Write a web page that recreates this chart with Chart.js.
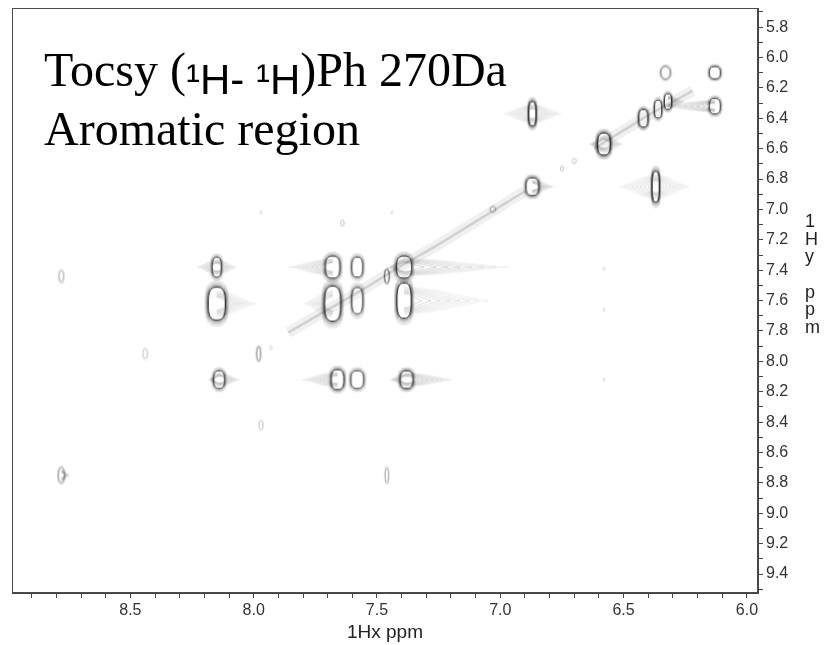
<!DOCTYPE html>
<html>
<head>
<meta charset="utf-8">
<script src="https://cdn.jsdelivr.net/npm/chart.js@4.4.1/dist/chart.umd.min.js"></script>
<style>
  html, body { margin: 0; padding: 0; background: #ffffff; }
  #wrap { width: 825px; height: 645px; position: relative; }
</style>
</head>
<body>
<div id="wrap"><canvas id="c" width="825" height="645"></canvas></div>
<script>
// ---------------- data (ppm) ----------------
const titleLine1 = ["Tocsy (", "\u00B9H- \u00B9H", ")Ph 270Da"];
const titleLine2 = "Aromatic region";
const xAxisTitle = "1Hx ppm";
const yAxisTitle = ["1", "H", "y", "", "p", "p", "m"];

const xRange = [5.955, 8.98];
const yRange = [5.674, 9.525];
const xMajorTicks = [6.0, 6.5, 7.0, 7.5, 8.0, 8.5];
const yMajorTicks = [5.8, 6.0, 6.2, 6.4, 6.6, 6.8, 7.0, 7.2, 7.4, 7.6, 7.8, 8.0, 8.2, 8.4, 8.6, 8.8, 9.0, 9.2, 9.4];

// cross / diagonal peaks: centre (ppm), half-widths (ppm), contour levels, tail extents (ppm)
const peakX      = [8.78, 8.78, 7.46, 8.44, 7.98, 7.93, 7.97, 8.15, 8.15, 8.14, 7.68, 7.58, 7.46, 7.39, 7.68, 7.58, 7.39, 7.66, 7.58, 7.38, 6.87, 6.87, 6.37, 6.33, 6.13, 6.13, 6.58, 6.42, 6.36, 6.32, 6.70, 6.75, 7.03, 7.64, 6.58, 6.58, 6.58, 7.97, 7.44];
const peakY      = [7.44, 8.75, 8.75, 7.95, 7.95, 7.91, 8.42, 7.38, 7.62, 8.12, 7.38, 7.38, 7.44, 7.38, 7.62, 7.60, 7.60, 8.12, 8.12, 8.12, 6.37, 6.85, 6.85, 6.10, 6.10, 6.32, 6.57, 6.40, 6.34, 6.29, 6.68, 6.73, 7.00, 7.09, 7.39, 7.66, 8.12, 7.02, 7.02];
const peakWidthX = [0.012, 0.016, 0.009, 0.011, 0.010, 0.006, 0.010, 0.025, 0.048, 0.030, 0.040, 0.030, 0.012, 0.042, 0.045, 0.030, 0.040, 0.035, 0.035, 0.035, 0.020, 0.035, 0.020, 0.025, 0.030, 0.030, 0.035, 0.025, 0.020, 0.020, 0.010, 0.008, 0.014, 0.008, 0.004, 0.004, 0.004, 0.004, 0.004];
const peakWidthY = [0.050, 0.065, 0.065, 0.045, 0.060, 0.020, 0.040, 0.090, 0.150, 0.080, 0.100, 0.090, 0.060, 0.100, 0.160, 0.120, 0.160, 0.090, 0.080, 0.080, 0.110, 0.080, 0.140, 0.055, 0.055, 0.070, 0.100, 0.080, 0.080, 0.070, 0.020, 0.020, 0.025, 0.025, 0.015, 0.015, 0.015, 0.015, 0.015];
const peakLevels = [3, 4, 3, 2, 4, 1, 2, 6, 8, 6, 7, 6, 5, 7, 8, 6, 8, 7, 6, 7, 8, 7, 8, 5, 6, 6, 8, 7, 6, 6, 2, 2, 3, 2, 1, 1, 1, 1, 1];
const fanLeft    = [0, 0, 0, 0, 0, 0, 0, 0.06, 0, 0.02, 0.15, 0, 0, 0.03, 0.08, 0, 0, 0.12, 0, 0.04, 0.10, 0, 0.13, 0, 0, 0.20, 0.03, 0, 0, 0, 0, 0, 0, 0, 0, 0, 0, 0, 0];
const fanRight   = [0, 0.02, 0, 0, 0, 0, 0, 0.06, 0.12, 0.06, 0, 0, 0, 0.39, 0, 0, 0.31, 0, 0, 0.16, 0.10, 0.06, 0.12, 0, 0, 0, 0.05, 0, 0, 0.05, 0, 0, 0, 0, 0, 0, 0, 0, 0];

// diagonal ridge (two visible stretches)
const diagX1 = [7.86, 7.70, 7.55, 7.40, 7.25, 7.10, 6.98, 6.90];
const diagY1 = [7.81, 7.66, 7.52, 7.37, 7.23, 7.08, 6.96, 6.88];
const diagX2 = [6.62, 6.50, 6.40, 6.30, 6.22];
const diagY2 = [6.60, 6.48, 6.38, 6.29, 6.22];

// ---------------- rendering ----------------
const peakPoints = peakX.map((x, i) => ({ x: x, y: peakY[i] }));
const diag1 = diagX1.map((x, i) => ({ x: x, y: diagY1[i] }));
const diag2 = diagX2.map((x, i) => ({ x: x, y: diagY2[i] }));

const imgCache = {};
function superEllipse(ctx, cx, cy, rx, ry, p) {
  ctx.beginPath();
  const N = 48;
  for (let k = 0; k <= N; k++) {
    const t = k / N * Math.PI * 2;
    const c = Math.cos(t), s = Math.sin(t);
    const x = cx + rx * Math.sign(c) * Math.pow(Math.abs(c), 2 / p);
    const y = cy + ry * Math.sign(s) * Math.pow(Math.abs(s), 2 / p);
    if (k === 0) ctx.moveTo(x, y); else ctx.lineTo(x, y);
  }
  ctx.closePath();
}
function peakImage(i, chart) {
  const xs = chart.scales.x, ys = chart.scales.y;
  const kx = Math.abs(xs.getPixelForValue(8) - xs.getPixelForValue(7));
  const ky = Math.abs(ys.getPixelForValue(8) - ys.getPixelForValue(7));
  const key = i + '_' + kx.toFixed(2) + '_' + ky.toFixed(2);
  if (imgCache[key]) return imgCache[key];
  const rx = Math.max(1.2, peakWidthX[i] * kx);
  const ry = Math.max(1.6, peakWidthY[i] * ky);
  const fl = fanLeft[i] * kx, fr = fanRight[i] * kx;
  const halfW = Math.ceil(rx + Math.max(fl, fr) + 3);
  const halfH = Math.ceil(ry + 3);
  const cv = document.createElement('canvas');
  cv.width = halfW * 2; cv.height = halfH * 2;
  const g = cv.getContext('2d');
  const cx = halfW, cy = halfH;
  g.lineWidth = 0.6;
  // tails (t1 ridges)
  [[-1, fl], [1, fr]].forEach(function (d) {
    const dir = d[0], f = d[1];
    if (f <= 0) return;
    const K = 8;
    for (let k = 0; k < K; k++) {
      const t = 1 - k / K;
      const tip = rx * 0.8 + f * t;
      const h = ry * (0.55 - 0.3 * k / K);
      g.strokeStyle = 'rgba(0,0,0,' + (0.10 + 0.025 * k).toFixed(3) + ')';
      g.beginPath();
      g.moveTo(cx, cy - h);
      g.bezierCurveTo(cx + dir * tip * 0.35, cy - h, cx + dir * tip * 0.7, cy - h * 0.25, cx + dir * tip, cy);
      g.bezierCurveTo(cx + dir * tip * 0.7, cy + h * 0.25, cx + dir * tip * 0.35, cy + h, cx, cy + h);
      g.stroke();
    }
  });
  // contour rings
  const n = peakLevels[i];
  const maxA = Math.min(0.85, 0.2 + 0.08 * n);
  const p = n >= 6 ? 2.8 : 2.1;
  for (let j = 0; j < n; j++) {
    const f = n === 1 ? 1 : j / (n - 1);
    const s = 1 - 0.28 * f;
    const a = 0.14 + (maxA - 0.14) * f * f;
    g.strokeStyle = 'rgba(0,0,0,' + a.toFixed(3) + ')';
    g.lineWidth = (j === n - 1 && n >= 6) ? 1.0 : 0.6;
    superEllipse(g, cx, cy, rx * s, ry * s, p);
    g.stroke();
  }
  imgCache[key] = cv;
  return cv;
}

const framePlugin = {
  id: 'frame',
  beforeDatasetsDraw(chart) {
    const a = chart.chartArea, ctx = chart.ctx;
    ctx.save();
    ctx.strokeStyle = '#4a4a4a';
    ctx.lineWidth = 1;
    ctx.strokeRect(Math.round(a.left) + 0.5, Math.round(a.top) + 0.5, Math.round(a.right - a.left) - 1, Math.round(a.bottom - a.top) - 1);
    ctx.restore();
  },
  afterDraw(chart) {
    const ctx = chart.ctx;
    ctx.save();
    ctx.fillStyle = '#000';
    ctx.textBaseline = 'alphabetic';
    ctx.textAlign = 'left';
    const serif = '48px "Liberation Serif", "Times New Roman", serif';
    const sans = '42px "Liberation Sans", Arial, sans-serif';
    let x = 44;
    const fonts = [serif, sans, serif];
    const bases = [86, 94, 86];
    titleLine1.forEach(function (t, k) {
      ctx.font = fonts[k];
      ctx.fillText(t, x, bases[k]);
      x += ctx.measureText(t).width;
    });
    ctx.font = serif;
    ctx.fillText(titleLine2, 44, 145);
    // stacked y-axis title
    ctx.font = '18px "Liberation Sans", Arial, sans-serif';
    ctx.fillStyle = '#222';
    ctx.textBaseline = 'middle';
    yAxisTitle.forEach(function (ch, k) {
      if (ch) ctx.fillText(ch, 805, 222 + k * 17.7);
    });
    ctx.restore();
  }
};

function minorTicks(lo, hi) {
  const out = [];
  for (let v = Math.ceil(lo * 10); v <= Math.floor(hi * 10); v++) out.push({ value: v / 10 });
  return out;
}
function isMajor(v, list) { return list.some(function (m) { return Math.abs(m - v) < 1e-6; }); }

Chart.defaults.font.family = '"Liberation Sans", Arial, sans-serif';

new Chart(document.getElementById('c'), {
  type: 'scatter',
  data: {
    datasets: [
      {
        label: 'peaks',
        data: peakPoints,
        pointRadius: 1,
        pointStyle: function (ctx) { return ctx.type === 'data' ? peakImage(ctx.dataIndex, ctx.chart) : 'circle'; },
        backgroundColor: 'rgba(0,0,0,0)',
        borderColor: 'rgba(0,0,0,0)'
      },
      {
        label: 'diagonal core 1', data: diag1, showLine: true, pointRadius: 0,
        borderColor: 'rgba(90,90,90,0.22)', borderWidth: 2.5, tension: 0.3
      },
      {
        label: 'diagonal core 2', data: diag2, showLine: true, pointRadius: 0,
        borderColor: 'rgba(90,90,90,0.22)', borderWidth: 2.5, tension: 0.3
      },
      {
        label: 'diagonal band 1', data: diag1, showLine: true, pointRadius: 0,
        borderColor: 'rgba(120,120,120,0.11)', borderWidth: 11, tension: 0.3
      },
      {
        label: 'diagonal band 2', data: diag2, showLine: true, pointRadius: 0,
        borderColor: 'rgba(120,120,120,0.11)', borderWidth: 11, tension: 0.3
      }
    ]
  },
  options: {
    responsive: false,
    animation: false,
    events: [],
    layout: { padding: { left: 12, top: 8, right: 0, bottom: 0 } },
    plugins: { legend: { display: false }, tooltip: { enabled: false }, title: { display: false } },
    scales: {
      x: {
        type: 'linear', position: 'bottom', reverse: true,
        min: xRange[0], max: xRange[1],
        afterBuildTicks: function (s) { s.ticks = minorTicks(xRange[0], xRange[1]); },
        afterFit: function (s) { s.height = 52; s.paddingLeft = 0; s.paddingRight = 0; },
        ticks: {
          autoSkip: false, maxRotation: 0, minRotation: 0, padding: 3,
          color: '#333', font: { size: 16 },
          callback: function (v) { return isMajor(v, xMajorTicks) ? v.toFixed(1) : ''; }
        },
        grid: { drawOnChartArea: false, drawTicks: true, tickLength: 5, color: '#444' },
        border: { display: true, color: '#444', width: 1 },
        title: { display: true, text: xAxisTitle, color: '#222', font: { size: 19 }, padding: { top: 2, bottom: 1 } }
      },
      y: {
        type: 'linear', position: 'right', reverse: true,
        min: yRange[0], max: yRange[1],
        afterBuildTicks: function (s) { s.ticks = minorTicks(yRange[0], yRange[1]); },
        afterFit: function (s) { s.width = 67; s.paddingTop = 0; s.paddingBottom = 0; },
        ticks: {
          autoSkip: false, padding: 3, color: '#333', font: { size: 16 },
          callback: function (v) { return isMajor(v, yMajorTicks) ? v.toFixed(1) : ''; }
        },
        grid: { drawOnChartArea: false, drawTicks: true, tickLength: 5, color: '#444' },
        border: { display: true, color: '#444', width: 1 }
      }
    }
  },
  plugins: [framePlugin]
});
</script>
</body>
</html>
